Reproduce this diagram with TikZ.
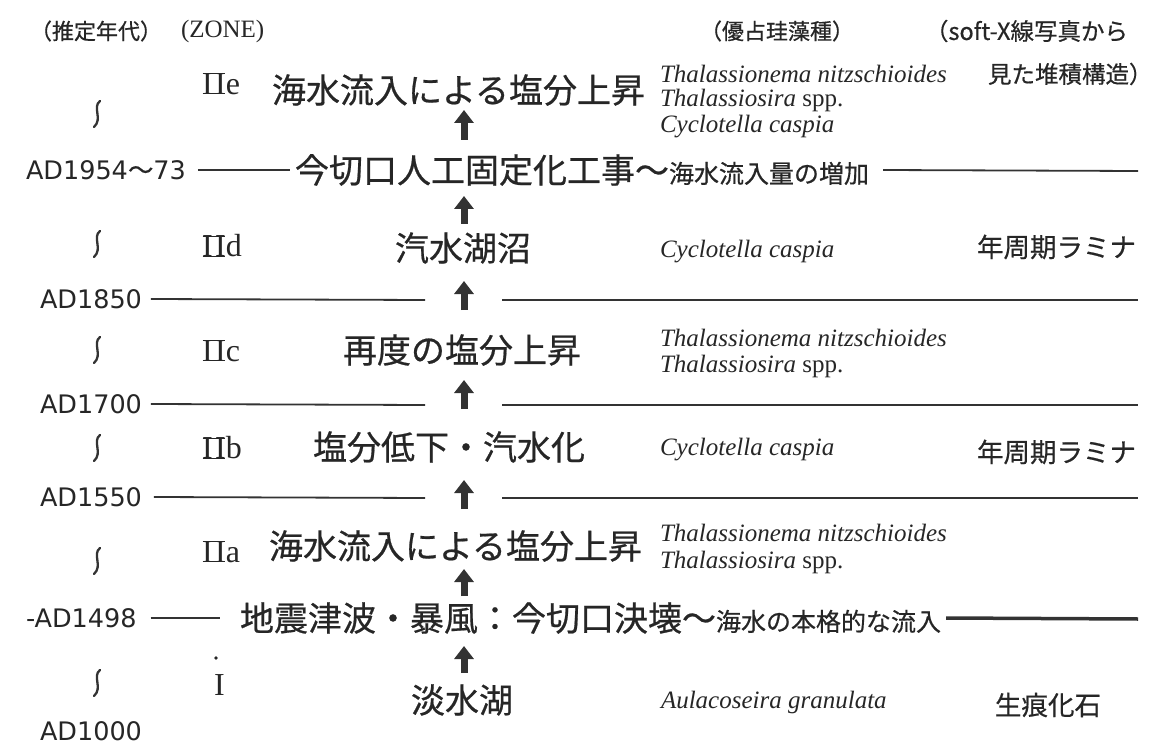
\documentclass[tikz,border=0pt]{standalone}
\usepackage{graphicx}
\usepackage{fontspec}
\usetikzlibrary{arrows.meta}
\setmainfont{Liberation Serif}
\newfontfamily\jp{Noto Sans CJK JP}[FakeBold=0.6]
\newfontfamily\dv{DejaVu Sans}
\definecolor{ink}{HTML}{262626}
\definecolor{rulec}{HTML}{333333}
\newcommand\RomTwo{\makebox[0pt][l]{\kern0.02em\rule{0.71em}{0.035em}}\makebox[0pt][l]{\kern0.02em\raisebox{0.627em}{\rule{0.71em}{0.035em}}}I\kern0.08em I}
\newcommand\smjp{\fontsize{25}{30}\selectfont}
\tikzset{
  txt/.style={inner sep=0pt, outer sep=0pt, text=ink, anchor=west},
  txtbig/.style={txt, font=\jp\fontsize{34}{40}\selectfont},
  txtright/.style={txt, font=\jp\fontsize{26.5}{30}\selectfont},
  txthead/.style={txt, font=\jp\fontsize{22}{26}\selectfont},
  txthead2/.style={txt, font=\jp\fontsize{23.5}{26}\selectfont},
  adlab/.style={txt, font=\dv\fontsize{25.5}{30}\selectfont},
  zonelab/.style={txt, font=\fontsize{32}{34}\selectfont},
  zonehead/.style={txt, font=\fontsize{25}{28}\selectfont},
  species/.style={txt, font=\fontsize{25}{28}\selectfont},
  hline/.style={draw=rulec, line width=1.8pt},
  uparrow/.style={draw=rulec, line width=7pt, -{Triangle[length=13pt,width=19pt]}},
  squig/.pic={\draw[rulec, line width=2.3pt, line cap=round] (3,-13) .. controls (-5,-7) and (6,5) .. (-3,13);}
}
\begin{document}
\begin{tikzpicture}[x=1pt,y=-1pt]
\useasboundingbox (0,0) rectangle (1151,746);
% header
\node[txthead] (h1) at (30,31) {（推定年代）};
\node[zonehead] (h2) at (181,31) {(ZONE)};
\node[txthead] (h3) at (700,31) {（優占珪藻種）};
\node[txthead2] (h4) at (925,31) {（soft-X線写真から};
\node[txthead2] (h5) at (988,74) {見た堆積構造）};
% row IIe
\pic at (97,114) {squig};
\node[zonelab] (ze) at (202,84) {\RomTwo e};
\node[txtbig] (te) at (272,90) {海水流入による塩分上昇};
\node[species] (se1) at (660,74) {\textit{Thalassionema nitzschioides}};
\node[species] (se2) at (660,100) {\textit{Thalassiosira} spp.};
\node[species] (se3) at (660,127) {\textit{Cyclotella caspia}};
\coordinate (ae0) at (464,140); \coordinate (ae1) at (464,110);
\draw[uparrow] (ae0) -- (ae1);
% AD1954-73
\node[adlab] (ad1954) at (26,170) {AD1954{\jp 〜}73};
\node[txtbig] (cut) at (295,170) {今切口人工固定化工事〜{\smjp 海水流入量の増加}};
\coordinate (r1954) at (1138,171);
\draw[hline] ([xshift=12pt]ad1954.east) -- ([xshift=-5pt]cut.west);
\draw[hline] ([xshift=14pt]cut.east) -- (r1954);
\coordinate (ad0) at (464,224); \coordinate (ad1) at (464,196);
\draw[uparrow] (ad0) -- (ad1);
% row IId
\pic at (97,244) {squig};
\node[zonelab] (zd) at (202,246) {\RomTwo d};
\node[txtbig] (td) at (395,248) {汽水湖沼};
\node[species] (sd) at (660,252) {\textit{Cyclotella caspia}};
\node[txtright] (rd) at (977,247) {年周期ラミナ};
% AD1850
\node[adlab] (ad1850) at (40,299) {AD1850};
\coordinate (g1850l) at (425,300); \coordinate (g1850r) at (502,300); \coordinate (r1850) at (1138,300);
\draw[hline] ([xshift=9pt]ad1850.east) -- (g1850l);
\draw[hline] (g1850r) -- (r1850);
\coordinate (ac0) at (464,310); \coordinate (ac1) at (464,281);
\draw[uparrow] (ac0) -- (ac1);
% row IIc
\pic at (97,350) {squig};
\node[zonelab] (zc) at (202,351) {\RomTwo c};
\node[txtbig] (tc) at (343,350) {再度の塩分上昇};
\node[species] (sc1) at (660,338) {\textit{Thalassionema nitzschioides}};
\node[species] (sc2) at (660,366) {\textit{Thalassiosira} spp.};
% AD1700
\node[adlab] (ad1700) at (40,404) {AD1700};
\coordinate (g1700l) at (425,405); \coordinate (g1700r) at (502,405); \coordinate (r1700) at (1138,405);
\draw[hline] ([xshift=9pt]ad1700.east) -- (g1700l);
\draw[hline] (g1700r) -- (r1700);
\coordinate (ab0) at (464,409); \coordinate (ab1) at (464,380);
\draw[uparrow] (ab0) -- (ab1);
% row IIb
\pic at (97,448) {squig};
\node[zonelab] (zb) at (202,448) {\RomTwo b};
\node[txtbig] (tb) at (313,447) {塩分低下・汽水化};
\node[species] (sb) at (660,450) {\textit{Cyclotella caspia}};
\node[txtright] (rb) at (977,452) {年周期ラミナ};
% AD1550
\node[adlab] (ad1550) at (40,497) {AD1550};
\coordinate (g1550l) at (425,498); \coordinate (g1550r) at (502,498); \coordinate (r1550) at (1138,498);
\draw[hline] ([xshift=12pt]ad1550.east) -- (g1550l);
\draw[hline] (g1550r) -- (r1550);
\coordinate (aa0) at (464,509); \coordinate (aa1) at (464,480);
\draw[uparrow] (aa0) -- (aa1);
% row IIa
\pic at (97,561) {squig};
\node[zonelab] (za) at (202,552) {\RomTwo a};
\node[txtbig] (ta) at (269,546) {海水流入による塩分上昇};
\node[species] (sa1) at (660,533) {\textit{Thalassionema nitzschioides}};
\node[species] (sa2) at (660,562) {\textit{Thalassiosira} spp.};
\coordinate (aq0) at (464,596); \coordinate (aq1) at (464,569);
\draw[uparrow] (aq0) -- (aq1);
% AD1498
\node[adlab] (ad1498) at (26,618) {-AD1498};
\node[txtbig] (quake) at (240,618) {地震津波・暴風：今切口決壊〜{\smjp 海水の本格的な流入}};
\coordinate (r1498) at (1138,619);
\draw[hline] ([xshift=14pt]ad1498.east) -- ([xshift=-20pt]quake.west);
\draw[draw=rulec, line width=3.5pt] ([xshift=5pt]quake.east) -- (r1498);
\coordinate (a10) at (464,673); \coordinate (a11) at (464,646);
\draw[uparrow] (a10) -- (a11);
% row I
\pic at (97,683) {squig};
\fill[ink] (216,658) circle (1.9);
\node[zonelab] (z1) at (214,685) {I};
\node[txtbig] (t1) at (411,700) {淡水湖};
\node[species] (s1) at (661,702) {\textit{Aulacoseira granulata}};
\node[txtright] (r1) at (995,705) {生痕化石};
% AD1000
\node[adlab] (ad1000) at (40,731) {AD1000};
\end{tikzpicture}
\end{document}
